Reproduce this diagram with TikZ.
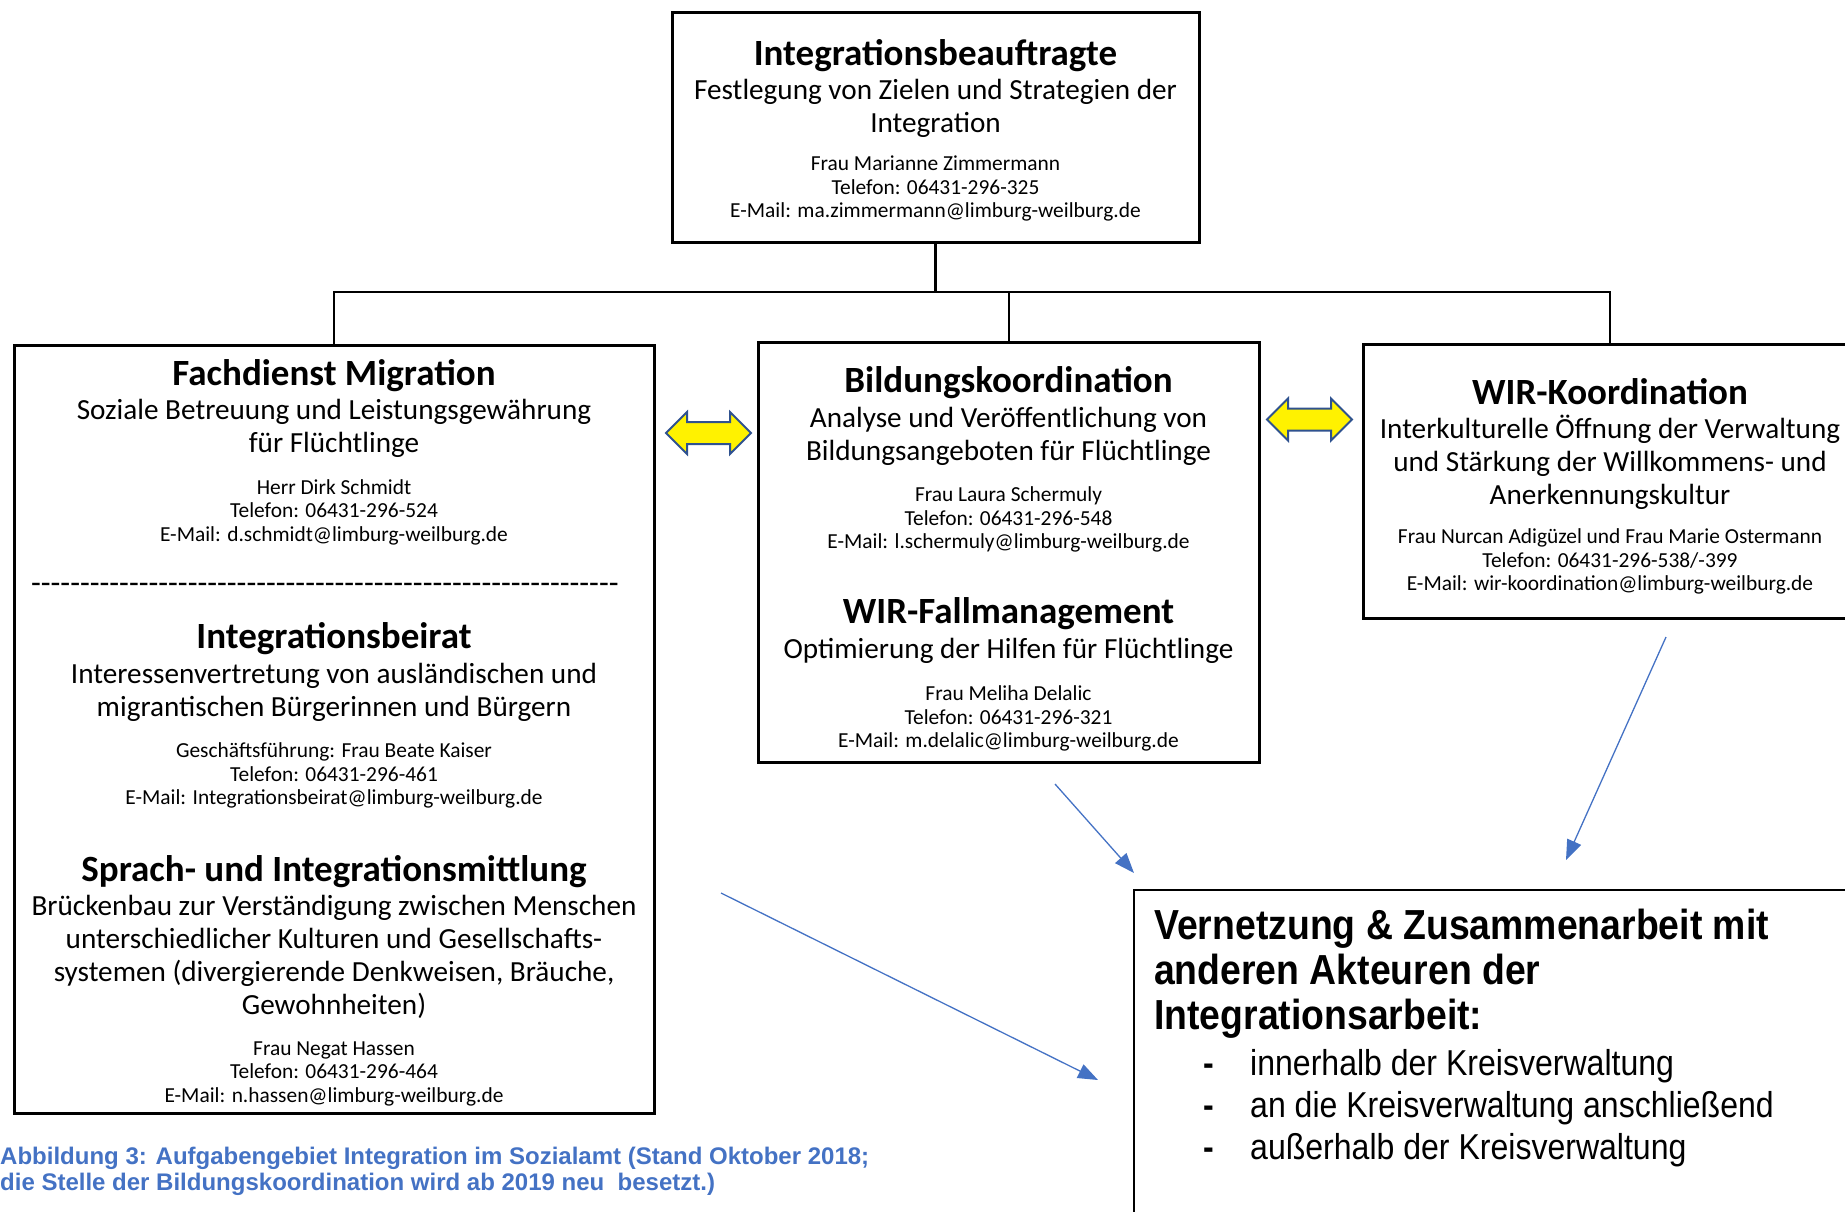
\documentclass[tikz,border=0pt]{standalone}
\usepackage{fontspec}
\setmainfont{Carlito}
\newfontfamily\arial{Liberation Sans}
\newfontfamily\arialschmal[FakeStretch=0.89]{Liberation Sans}
\usepackage{tikz}
\usetikzlibrary{shapes.arrows, arrows.meta}
\definecolor{pfeilblau}{HTML}{4472C4}
\definecolor{pfeilrand}{HTML}{2F528F}
\tikzstyle{kasten} = [rectangle, 
draw=black, 
line width=3pt, 
inner sep=0pt]
\tikzstyle{titel} = [inner sep=0pt, 
font=\bfseries\fontsize{37}{40}\selectfont]
\tikzstyle{aufgabe} = [inner sep=0pt, 
align=center, 
font=\fontsize{29.2}{33}\selectfont]
\tikzstyle{kontakt} = [inner sep=0pt, 
align=center, 
font=\fontsize{21.4}{23.5}\selectfont]
\tikzstyle{wechsel} = [double arrow, 
double arrow head extend=10pt, 
minimum height=85pt, 
minimum width=40pt, 
inner xsep=0pt, inner ysep=10pt, 
draw=pfeilrand, line width=2pt, fill=yellow]
\tikzstyle{ast} = [line width=2pt]
\tikzstyle{pfeil} = [draw=pfeilblau, line width=1.3pt, -{Triangle[length=20pt,width=15pt]}]

\begin{document}
\begin{tikzpicture}[x=1pt, y=-1pt]
\useasboundingbox (0,0) rectangle (1845,1211);

% Kaesten
\node (ibt) [kasten, minimum width=527pt, minimum height=230pt] at (935.5,127) {};
\node (fdm) [kasten, minimum width=640pt, minimum height=768pt] at (334,729) {};
\node (bik) [kasten, minimum width=501pt, minimum height=420pt] at (1008.5,552) {};
\node (wir) [kasten, minimum width=494pt, minimum height=274pt] at (1610,481) {};
\node (netz) [kasten, line width=1.5pt, minimum width=766pt, minimum height=380pt] at (1517,1080) {};

% Integrationsbeauftragte
\node (ibt1) [titel] at (935.5,56) {Integrationsbeauftragte};
\node (ibt2) [aufgabe] at (935.5,108.5) {Festlegung von Zielen und Strategien der\\Integration};
\node (ibt3) [kontakt] at (935.5,188.5) {Frau Marianne Zimmermann\\Telefon: 06431-296-325\\E-Mail: ma.zimmermann@limburg-weilburg.de};

% Fachdienst Migration
\node (fdm1) [titel] at (334,376) {Fachdienst Migration};
\node (fdm2) [aufgabe] at (334,428) {Soziale Betreuung und Leistungsgewährung\\für Flüchtlinge};
\node (fdm3) [kontakt] at (334,512) {Herr Dirk Schmidt\\Telefon: 06431-296-524\\E-Mail: d.schmidt@limburg-weilburg.de};
\node (trenn) [inner sep=0pt, font=\fontsize{32}{34}\selectfont] at (325,588) {\foreach \i in {1,...,60}{\mbox{-}}};
\node (beirat1) [titel] at (334,639) {Integrationsbeirat};
\node (beirat2) [aufgabe] at (334,692) {Interessenvertretung von ausländischen und\\migrantischen Bürgerinnen und Bürgern};
\node (beirat3) [kontakt] at (334,775.5) {Geschäftsführung: Frau Beate Kaiser\\Telefon: 06431-296-461\\E-Mail: Integrationsbeirat@limburg-weilburg.de};
\node (sprach1) [titel] at (334,872) {Sprach- und Integrationsmittlung};
\node (sprach2) [aufgabe] at (334,957) {Brückenbau zur Verständigung zwischen Menschen\\unterschiedlicher Kulturen und Gesellschafts-\\systemen (divergierende Denkweisen, Bräuche,\\Gewohnheiten)};
\node (sprach3) [kontakt] at (334,1073.5) {Frau Negat Hassen\\Telefon: 06431-296-464\\E-Mail: n.hassen@limburg-weilburg.de};

% Bildungskoordination und Fallmanagement
\node (bik1) [titel] at (1008.5,383) {Bildungskoordination};
\node (bik2) [aufgabe] at (1008.5,436.5) {Analyse und Veröffentlichung von\\Bildungsangeboten für Flüchtlinge};
\node (bik3) [kontakt] at (1008.5,519.7) {Frau Laura Schermuly\\Telefon: 06431-296-548\\E-Mail: l.schermuly@limburg-weilburg.de};
\node (fall1) [titel] at (1008.5,614) {WIR-Fallmanagement};
\node (fall2) [aufgabe] at (1008.5,651) {Optimierung der Hilfen für Flüchtlinge};
\node (fall3) [kontakt] at (1008.5,718.7) {Frau Meliha Delalic\\Telefon: 06431-296-321\\E-Mail: m.delalic@limburg-weilburg.de};

% WIR-Koordination
\node (wir1) [titel] at (1610,392) {WIR-Koordination};
\node (wir2) [aufgabe] at (1610,462.3) {Interkulturelle Öffnung der Verwaltung\\und Stärkung der Willkommens- und\\Anerkennungskultur};
\node (wir3) [kontakt] at (1610,561.7) {Frau Nurcan Adigüzel und Frau Marie Ostermann\\Telefon: 06431-296-538/-399\\E-Mail: wir-koordination@limburg-weilburg.de};

% Vernetzung
\node (netz1) [inner sep=0pt, anchor=west, align=left, font=\arialschmal\bfseries\fontsize{42}{45}\selectfont] at (1154,974) {Vernetzung \& Zusammenarbeit mit\\anderen Akteuren der\\Integrationsarbeit:};
\node (netz2) [inner sep=0pt, anchor=west, align=left, font=\arialschmal\fontsize{36}{42}\selectfont] at (1203,1108) {\makebox[47pt][l]{\textbf{-}}innerhalb der Kreisverwaltung\\\makebox[47pt][l]{\textbf{-}}an die Kreisverwaltung anschließend\\\makebox[47pt][l]{\textbf{-}}außerhalb der Kreisverwaltung};

% Bildunterschrift
\node (abb) [inner sep=0pt, anchor=west, align=left, text=pfeilblau, font=\arial\bfseries\fontsize{24}{26}\selectfont] at (0,1171) {Abbildung 3: Aufgabengebiet Integration im Sozialamt (Stand Oktober 2018;\\die Stelle der Bildungskoordination wird ab 2019 neu\ \ besetzt.)};

% Doppelpfeile
\node (dp1) [wechsel] at (708.5,433) {};
\node (dp2) [wechsel] at (1309.5,419.5) {};

% Linien
\coordinate (knoten) at (935.5,292);
\draw [line width=3pt] (ibt.south) -- (knoten);
\draw [ast] (knoten) -| (fdm.north);
\draw [ast] (knoten) -| (bik.north);
\draw [ast] (knoten) -| (wir.north);

% Pfeile zur Vernetzung
\coordinate (a1) at (1055,784);
\coordinate (b1) at (1134,873);
\coordinate (a2) at (1666,637);
\coordinate (b2) at (1566,860);
\coordinate (a3) at (721,893);
\coordinate (b3) at (1098,1080);
\draw [pfeil] (a1) -- (b1);
\draw [pfeil] (a2) -- (b2);
\draw [pfeil] (a3) -- (b3);

\end{tikzpicture}
\end{document}
